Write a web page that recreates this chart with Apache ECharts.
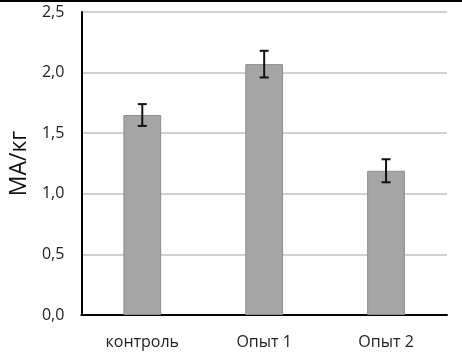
<!DOCTYPE html>
<html>
<head>
<meta charset="utf-8">
<script src="https://cdn.jsdelivr.net/npm/echarts@6/dist/echarts.min.js"></script>
<style>
  html, body {margin: 0; padding: 0; background: #fff;}
  #chart {width: 462px; height: 357px; box-sizing: border-box; border-top: 2px solid #000;}
</style>
</head>
<body>
<div id="chart"></div>
<script>
const categories = ['контроль', 'Опыт 1', 'Опыт 2']
const values = [1.65, 2.07, 1.19]
const errors = [0.09, 0.11, 0.095]

const myChart = echarts.init(document.getElementById('chart'))
const font = '"Open Sans", "Noto Sans", sans-serif'

myChart.setOption({
  animation: false,
  grid: {left: 81, right: 15, top: 10, bottom: 42},
  xAxis: {
    type: 'category',
    data: categories,
    axisLine: {lineStyle: {color: '#000', width: 2}},
    axisTick: {show: false},
    axisLabel: {color: '#222', fontSize: 16, fontFamily: font, margin: 19}
  },
  yAxis: {
    type: 'value',
    min: 0,
    max: 2.5,
    interval: 0.5,
    name: 'МА/кг',
    nameLocation: 'middle',
    nameGap: 50,
    nameTextStyle: {fontSize: 23, color: '#111', fontFamily: font},
    axisLine: {show: true, lineStyle: {color: '#000', width: 2}},
    axisTick: {show: false},
    splitLine: {lineStyle: {color: '#d0d0d0', width: 2}},
    axisLabel: {
      color: '#222', fontSize: 16, fontFamily: font, margin: 17,
      formatter(val) {
        return val.toFixed(1).replace('.', ',')
      }
    }
  },
  series: [{
    type: 'bar',
    data: values,
    barWidth: '31%',
    itemStyle: {color: '#a5a5a5', borderColor: '#8e8e8e', borderWidth: 1}
  }, {
    type: 'custom',
    data: values.map((v, i) => [i, v - errors[i], v + errors[i]]),
    renderItem(params, api) {
      const lo = api.coord([api.value(0), api.value(1)])
      const hi = api.coord([api.value(0), api.value(2)])
      const half = 4.5
      const style = {stroke: '#111', lineWidth: 2}
      return {
        type: 'group',
        children: [
          {type: 'line', shape: {x1: lo[0], y1: lo[1], x2: hi[0], y2: hi[1]}, style},
          {type: 'line', shape: {x1: lo[0] - half, y1: lo[1], x2: lo[0] + half, y2: lo[1]}, style},
          {type: 'line', shape: {x1: hi[0] - half, y1: hi[1], x2: hi[0] + half, y2: hi[1]}, style}
        ]
      }
    },
    z: 10
  }]
})
</script>
</body>
</html>
